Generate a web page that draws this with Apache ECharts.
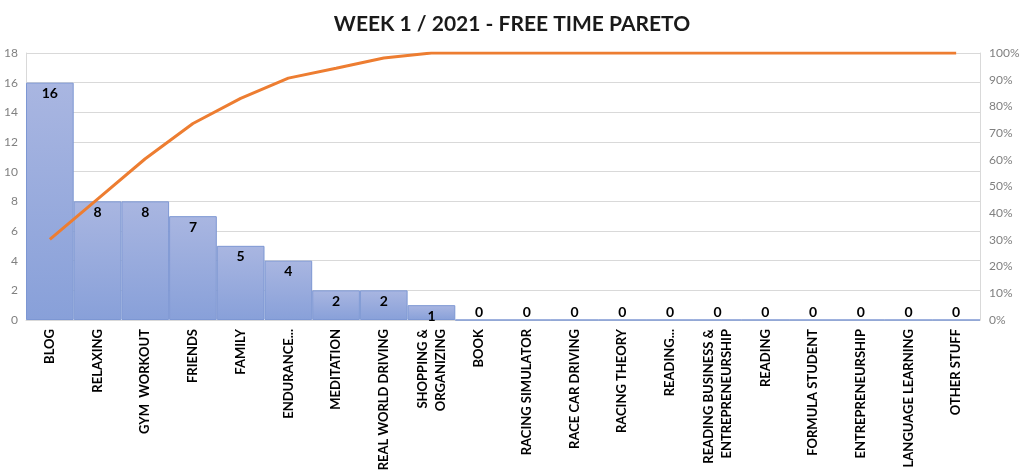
<!DOCTYPE html>
<html><head><meta charset="utf-8">
<script src="https://cdn.jsdelivr.net/npm/echarts@6/dist/echarts.min.js"></script>
<style>html,body{margin:0;padding:0;background:#fff}#c{width:1024px;height:475px}</style>
</head><body><div id="c"></div>
<script>
const categories = ["BLOG","RELAXING","GYM  WORKOUT","FRIENDS","FAMILY","ENDURANCE...","MEDITATION","REAL WORLD DRIVING","SHOPPING &\nORGANIZING","BOOK","RACING SIMULATOR","RACE CAR DRIVING","RACING THEORY","READING...","READING BUSINESS &\nENTREPRENEURSHIP","READING","FORMULA STUDENT","ENTREPRENEURSHIP","LANGUAGE LEARNING","OTHER STUFF"];
const hours = [16,8,8,7,5,4,2,2,1,0,0,0,0,0,0,0,0,0,0,0];
const cumulativePct = [30.2,45.3,60.4,73.6,83.0,90.6,94.3,98.1,100,100,100,100,100,100,100,100,100,100,100,100];
const leftTicks = {min:0, max:18, interval:2};
const rightTicks = {min:0, max:100, interval:10};

const chart = echarts.init(document.getElementById('c'));
const barData = hours.map(v => v === 0
  ? {value: v, label: {position: 'insideBottom', distance: 1}}
  : {value: v});
chart.setOption({
  animation: false,
  title: {text: 'WEEK 1 / 2021 - FREE TIME PARETO', left: 'center', top: 9,
    textStyle: {fontFamily: 'Lato', fontWeight: 'bold', fontSize: 21, color: '#1a1a1a'}},
  grid: {left: 26, right: 44, top: 53, bottom: 155},
  xAxis: {type: 'category', data: categories,
    axisLine: {lineStyle: {color: '#d9d9d9'}}, axisTick: {show: false},
    axisLabel: {rotate: 90, interval: 0, margin: 9, fontFamily: 'Lato', fontWeight: 'bold', fontSize: 13, color: '#000', lineHeight: 18}},
  yAxis: [
    {type: 'value', min: leftTicks.min, max: leftTicks.max, interval: leftTicks.interval,
     axisLine: {show: true, lineStyle: {color: '#d9d9d9'}},
     axisLabel: {fontFamily: 'Lato', fontSize: 12, color: '#808080', margin: 8},
     splitLine: {lineStyle: {color: '#d9d9d9'}}},
    {type: 'value', min: rightTicks.min, max: rightTicks.max, interval: rightTicks.interval,
     axisLine: {show: true, lineStyle: {color: '#d9d9d9'}},
     axisLabel: {formatter: '{value}%', fontFamily: 'Lato', fontSize: 12, color: '#808080', margin: 9},
     splitLine: {show: false}}
  ],
  series: [
    {type: 'bar', data: barData, barCategoryGap: '0%', barGap: '0%',
     itemStyle: {
       color: new echarts.graphic.LinearGradient(0,0,0,1,[{offset:0,color:'#a9b6e1'},{offset:1,color:'#88a0d9'}]),
       borderColor: '#7d97d3', borderWidth: 1},
     label: {show: true, position: 'insideTop', distance: 4, fontFamily: 'Lato', fontWeight: 'bold', fontSize: 14, color: '#000'}},
    {type: 'line', yAxisIndex: 1, data: cumulativePct, showSymbol: false, symbol: 'none',
     lineStyle: {color: '#ed7d31', width: 3}}
  ]
});
</script></body></html>
